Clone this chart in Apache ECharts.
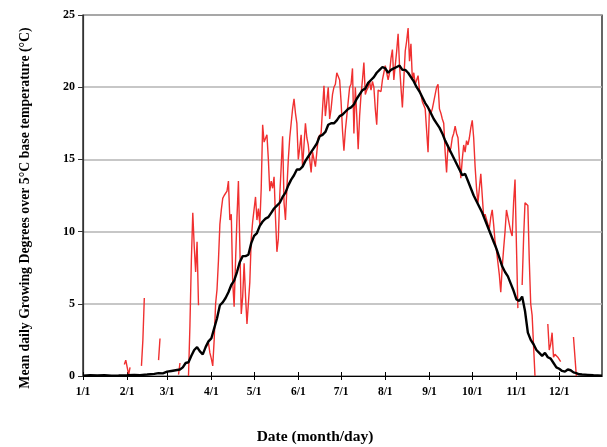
<!DOCTYPE html>
<html>
<head>
<meta charset="utf-8">
<script src="https://cdn.jsdelivr.net/npm/echarts@6/dist/echarts.min.js"></script>
<style>
html,body{margin:0;padding:0;background:#fff;}
#chart{width:607px;height:447px;}
</style>
</head>
<body>
<div id="chart"></div>
<script>
// Month start day indices (0 = Jan 1) and their labels
const monthStarts = [0, 31, 59, 90, 120, 151, 181, 212, 243, 273, 304, 334];
const monthLabels = ['1/1', '2/1', '3/1', '4/1', '5/1', '6/1', '7/1', '8/1', '9/1', '10/1', '11/1', '12/1'];
const yTicks = [0, 5, 10, 15, 20, 25];
const xTitle = 'Date (month/day)';
const yTitle = 'Mean daily Growing Degrees over 5\u00B0C base temperature (\u00B0C)';

// Mean daily growing degrees (black line)
const meanDays = [0,5,10,15,20,25,31,36,40,45,50,53,56,59,62,65,68,70,72,74,76,78,80,82,84,86,88,90,92,94,96,98,100,102,104,106,108,110,112,114,116,118,120,122,124,126,128,130,132,134,136,138,140,142,144,146,148,150,152,154,156,158,160,162,164,166,168,170,172,174,176,178,180,182,184,186,188,190,192,194,196,198,200,202,204,206,208,210,212,214,216,218,220,222,224,226,228,230,232,234,236,238,240,242,244,246,248,250,252,254,256,258,260,262,264,266,268,270,272,274,276,278,280,282,284,286,288,290,292,294,296,298,300,302,304,306,308,310,312,314,316,318,320,322,324,326,328,330,332,334,336,338,340,342,344,346,348,350,354,358,364];
const meanValues = [0.02,0.05,0.03,0.05,0.02,0.03,0.05,0.08,0.06,0.1,0.15,0.2,0.18,0.3,0.35,0.4,0.45,0.6,0.9,0.95,1.4,1.8,2.0,1.7,1.5,2.0,2.4,2.6,3.3,4.0,4.9,5.1,5.4,5.8,6.3,6.6,7.2,7.9,8.3,8.3,8.4,9.2,9.7,9.9,10.4,10.7,10.9,11.0,11.3,11.6,11.8,12.0,12.4,12.7,13.2,13.6,13.9,14.3,14.3,14.5,14.9,15.2,15.5,15.8,16.1,16.6,16.7,16.9,17.4,17.5,17.5,17.7,18.0,18.1,18.3,18.5,18.6,18.8,19.2,19.5,19.8,19.9,20.3,20.5,20.7,21.0,21.2,21.4,21.3,21.0,21.2,21.3,21.4,21.5,21.2,21.2,21.0,20.7,20.4,20.0,19.7,19.3,18.9,18.6,18.2,17.8,17.5,17.2,16.8,16.3,15.9,15.5,15.1,14.7,14.3,13.9,14.0,13.5,13.0,12.5,12.1,11.7,11.3,10.8,10.3,9.8,9.3,8.8,8.2,7.6,7.2,6.9,6.4,5.9,5.3,5.2,5.5,4.5,3.0,2.5,2.2,1.8,1.6,1.4,1.6,1.3,1.2,0.9,0.6,0.5,0.35,0.3,0.45,0.4,0.25,0.2,0.12,0.1,0.08,0.05,0.02];

// Daily growing degrees for the single year (red line); null = missing day
const redDays = [29,30,31,32,33,34,41,42,43,44,53,54,55,67,68,69,74,75,76,77,78,79,80,81,82,
88,89,90,91,92,93,94,95,96,97,98,99,100,101,102,103,104,105,106,107,108,109,110,111,112,113,114,115,116,117,118,119,120,
121,122,123,124,125,126,127,128,129,130,131,132,133,134,135,136,137,138,139,140,141,142,143,144,145,146,147,148,149,150,
151,152,153,154,155,156,157,158,159,160,161,162,163,164,165,166,167,168,169,170,171,172,173,174,175,176,177,178,179,180,
181,182,183,184,185,186,187,188,189,190,191,192,193,194,195,196,197,198,199,200,201,202,203,204,205,206,207,208,209,210,
211,212,213,214,215,216,217,218,219,220,221,222,223,224,225,226,227,228,229,230,231,232,233,234,235,236,237,238,239,240,
241,242,243,244,245,246,247,248,249,250,251,252,253,254,255,256,257,258,259,260,261,262,263,264,265,266,267,268,269,270,
271,272,273,274,275,276,277,278,279,280,281,282,283,284,285,286,287,288,289,290,291,292,293,294,295,296,297,298,299,300,
301,302,303,304,305,306,308,309,310,311,312,313,314,315,316,317,318,
326,327,328,329,330,331,332,333,334,335,336,344,345,346];
const redValues = [0.8,1.1,0.6,0.1,0.6,null,0.7,2.5,5.4,null,1.1,2.6,null,0.1,0.9,null,0.0,3.5,8.0,11.3,9.0,7.2,9.3,4.9,null,
2.3,1.6,1.2,0.7,2.5,5.0,6.0,8.0,10.5,11.5,12.3,12.5,12.4,12.8,13.5,10.8,11.2,6.5,4.8,8.0,11.0,13.5,9.0,4.3,5.5,7.8,5.5,3.6,3.7,6.5,9.5,10.7,10.6,
12.4,10.8,11.6,10.5,13.0,17.4,16.2,16.3,16.7,15.0,12.8,13.5,13.0,13.8,11.0,8.6,9.5,12.5,14.5,16.6,12.0,10.8,13.0,15.0,16.5,17.5,18.5,19.2,18.2,17.5,
15.0,15.8,16.7,14.5,16.0,17.5,16.5,16.0,15.0,14.1,15.5,15.0,14.5,15.5,16.5,16.5,16.8,18.5,20.1,18.0,19.0,20.0,17.8,18.5,19.5,20.0,20.2,21.0,21.0,20.5,
19.0,17.0,15.6,17.0,18.0,19.0,20.0,20.2,21.3,16.8,20.0,18.0,15.7,18.0,19.5,20.5,21.7,19.5,19.8,20.0,20.4,19.8,20.4,20.0,18.5,17.4,19.8,19.8,19.7,20.5,
21.0,21.5,21.0,20.5,21.0,22.0,22.6,20.5,21.5,22.5,23.7,21.5,20.0,18.6,18.5,22.5,23.2,24.1,21.8,23.0,20.5,21.0,20.2,20.5,20.8,19.8,19.5,19.0,19.0,18.5,
17.0,15.5,18.5,18.2,18.5,19.0,19.5,20.0,20.2,18.5,18.2,17.8,17.5,15.5,14.1,16.0,15.5,15.8,16.5,16.8,17.3,16.8,16.5,15.0,13.7,15.0,16.0,15.5,16.3,16.0,
16.5,17.2,17.7,16.5,14.5,13.0,12.0,13.0,14.0,12.5,11.0,11.2,11.3,10.5,10.2,11.0,11.5,10.5,9.3,8.7,8.8,7.0,5.8,7.5,8.8,10.0,11.5,11.0,10.5,10.0,
9.7,12.0,13.6,9.0,4.7,null,6.3,9.5,12.0,11.9,11.8,8.0,5.0,4.2,4.3,0.0,null,
3.6,1.8,2.2,3.0,1.3,1.5,1.4,1.3,1.3,1.0,null,2.7,2.6,0.0];

const serif = '"Liberation Serif", "Times New Roman", serif';
const redData = redDays.map((d, i) => [d, redValues[i] === null ? '-' : redValues[i]]);
const meanData = meanDays.map((d, i) => [d, meanValues[i]]);

const chart = echarts.init(document.getElementById('chart'), null, {renderer: 'canvas'});
chart.setOption({
  animation: false,
  backgroundColor: '#fff',
  grid: {left: 83, right: 5, top: 15, bottom: 71, show: true, borderColor: '#000', borderWidth: 1.2, backgroundColor: 'transparent'},
  graphic: [{
    type: 'text', x: 25, y: 208, rotation: Math.PI / 2,
    style: {text: yTitle, fontFamily: serif, fontWeight: 'bold', fontSize: 13.8, fill: '#000', align: 'center', verticalAlign: 'middle'}
  }, {
    type: 'text', x: 315, y: 437,
    style: {text: xTitle, fontFamily: serif, fontWeight: 'bold', fontSize: 15.5, fill: '#000', align: 'center', verticalAlign: 'middle'}
  }],
  xAxis: [{
    type: 'value', min: 0, max: 364,
    axisLine: {show: true, lineStyle: {color: '#000', width: 1.2}},
    axisTick: {show: true, customValues: monthStarts, length: 4, lineStyle: {color: '#000', width: 1}},
    axisLabel: {customValues: monthStarts, margin: 10, fontFamily: serif, fontWeight: 'bold', fontSize: 11.5, color: '#000',
      formatter: v => monthLabels[monthStarts.indexOf(v)]},
    splitLine: {show: false}
  }, {
    type: 'value', min: 0, max: 364, position: 'bottom',
    axisLine: {show: false},
    axisTick: {show: true, inside: true, customValues: monthStarts, length: 4, lineStyle: {color: '#000', width: 1}},
    axisLabel: {show: false},
    splitLine: {show: false}
  }],
  yAxis: {
    type: 'value', min: 0, max: 25, interval: 5,
    axisLine: {show: true, lineStyle: {color: '#333', width: 1.2}},
    axisTick: {show: true, length: 5, lineStyle: {color: '#333'}},
    axisLabel: {margin: 8, fontFamily: serif, fontWeight: 'bold', fontSize: 12, color: '#000',
      formatter: v => yTicks.includes(v) ? String(v) : ''},
    splitLine: {show: true, lineStyle: {color: '#b5b5b5', width: 1.5}}
  },
  series: [{
    type: 'line', name: 'year', data: redData, xAxisIndex: 0,
    showSymbol: false, symbol: 'none', connectNulls: false,
    lineStyle: {color: '#f03030', width: 1.4}, z: 2
  }, {
    type: 'line', name: 'mean', data: meanData, xAxisIndex: 0,
    showSymbol: false, symbol: 'none',
    lineStyle: {color: '#000', width: 2.4}, z: 3
  }]
});
</script>
</body>
</html>
